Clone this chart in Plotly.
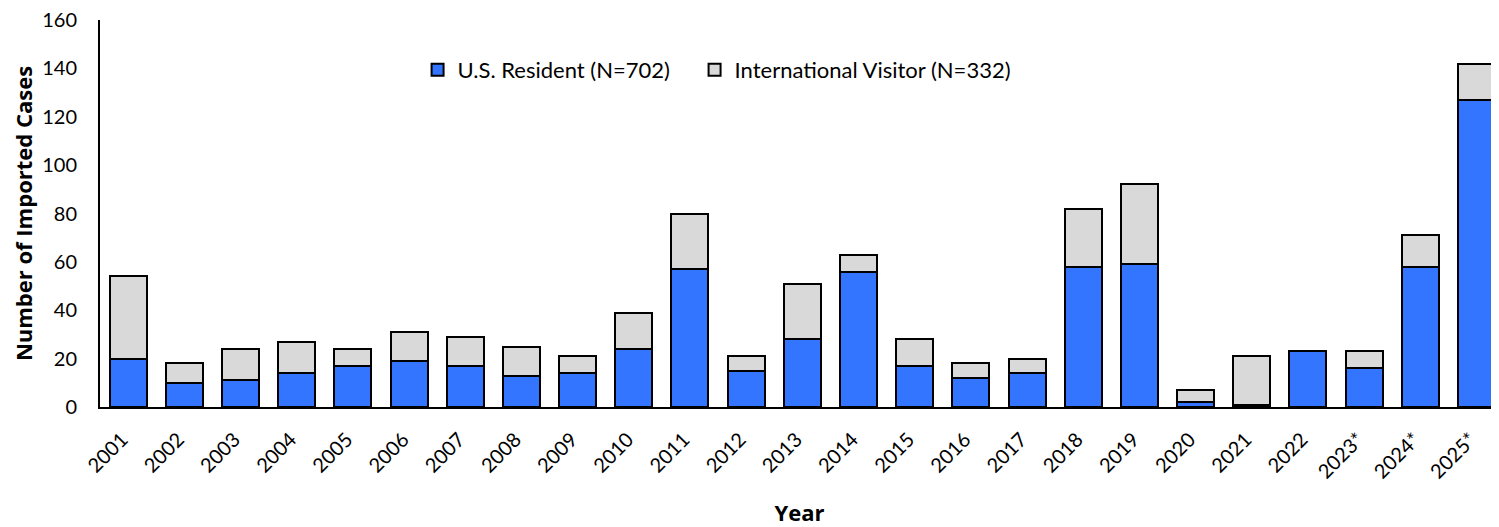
import plotly.graph_objects as go

years = ["2001", "2002", "2003", "2004", "2005", "2006", "2007", "2008", "2009", "2010",
         "2011", "2012", "2013", "2014", "2015", "2016", "2017", "2018", "2019", "2020",
         "2021", "2022", "2023*", "2024*", "2025*"]
us_resident = [20, 10, 11, 14, 17, 19, 17, 13, 14, 24, 57, 15, 28, 56, 17, 12, 14, 58, 59, 2, 1, 23, 16, 58, 127]
intl_visitor = [34, 8, 13, 13, 7, 12, 12, 12, 7, 15, 23, 6, 23, 7, 11, 6, 6, 24, 33, 5, 20, 0, 7, 13, 15]
y_ticks = [0, 20, 40, 60, 80, 100, 120, 140, 160]

FONT = "Lato"
TITLE_FONT = "Open Sans"

fig = go.Figure()
fig.add_trace(go.Bar(x=years, y=us_resident, name="U.S. Resident (N=702)", legend="legend",
                     marker=dict(color="#3375FF", line=dict(color="black", width=2))))
fig.add_trace(go.Bar(x=years, y=intl_visitor, name="International Visitor (N=332)", legend="legend2",
                     marker=dict(color="#D9D9D9", line=dict(color="black", width=2))))

legend_common = dict(orientation="h", y=0.871, xanchor="left", yanchor="middle",
                     font=dict(family=FONT, size=22, color="black"), bgcolor="rgba(0,0,0,0)",
                     itemwidth=30)

# page body has an 8px margin, so the figure div is offset by 8px
fig.update_layout(
    barmode="stack",
    bargap=0.342,
    width=1491, height=519,
    margin=dict(l=92, r=0, t=12, b=120, autoexpand=False),
    plot_bgcolor="white", paper_bgcolor="white",
    font=dict(family=FONT, size=20, color="black"),
    showlegend=True,
    legend=dict(x=0.227, **legend_common),
    legend2=dict(x=0.425, **legend_common),
    xaxis=dict(
        automargin=False, range=[-0.5, 24.4],
        showline=True, linecolor="black", linewidth=2,
        tickangle=-45, tickfont=dict(family=FONT, size=20, color="black"),
        ticks="", ticklabelstandoff=11, ticklabelshift=-6, ticklabeloverflow="allow",
        title=dict(text="<b>Year</b>", font=dict(family=TITLE_FONT, size=22, color="black"), standoff=24),
    ),
    yaxis=dict(
        automargin=False,
        range=[0, 160], tickvals=y_ticks, showline=True, linecolor="black", linewidth=2,
        showgrid=False, zeroline=False, ticks="", ticklabelstandoff=17, ticklabeloverflow="allow",
        tickfont=dict(family=FONT, size=20, color="black"),
        title=dict(text="<b>Number of Imported Cases</b>", font=dict(family=TITLE_FONT, size=22, color="black"), standoff=18),
    ),
)

fig.write_html("out.html")
